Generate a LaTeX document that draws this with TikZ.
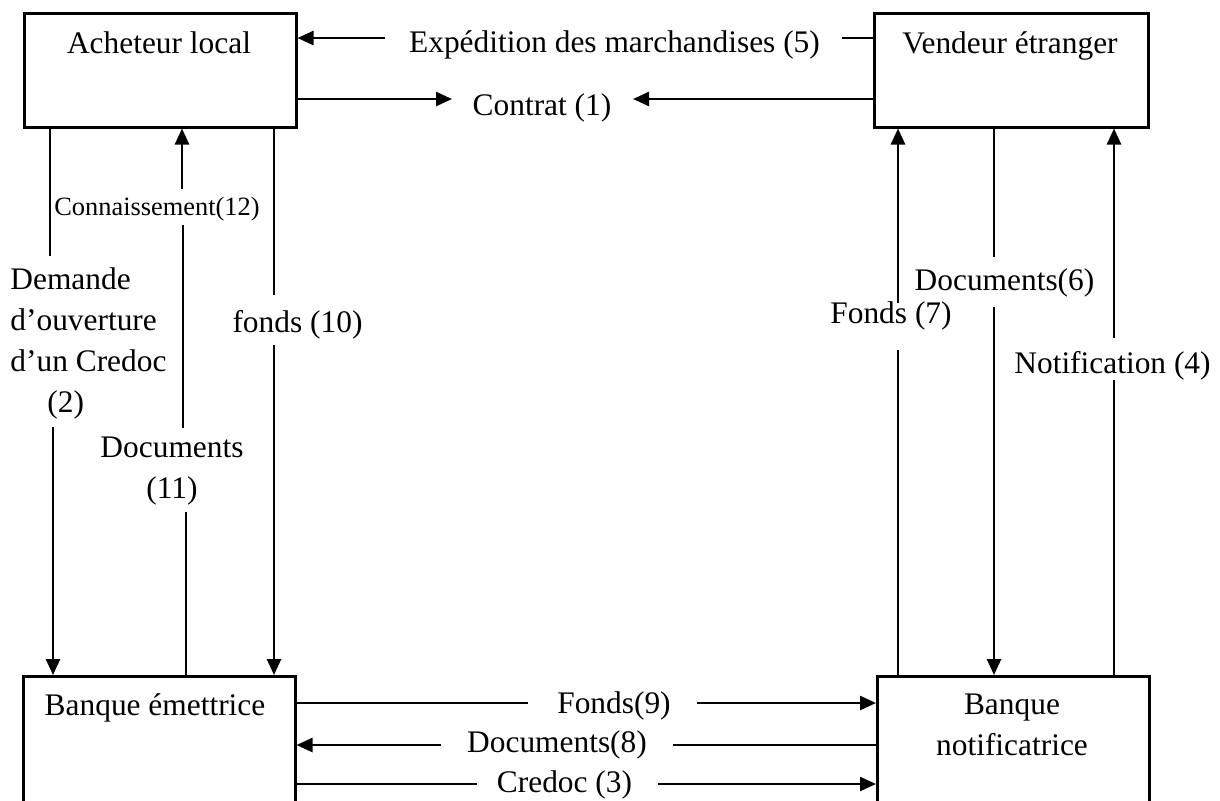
\documentclass[tikz,border=0pt]{standalone}
\usepackage{fontspec}
\setmainfont{Liberation Serif}
\usetikzlibrary{arrows.meta,calc}
\begin{document}
\begin{tikzpicture}[x=0.5pt,y=-0.5pt,
  box/.style={draw, line width=1.25pt, minimum width=136pt, minimum height=57pt, inner sep=0pt, anchor=north west},
  lbl/.style={font=\fontsize{15.7}{20}\selectfont, inner sep=0pt, anchor=base},
  mlbl/.style={font=\fontsize{15.7}{20.5}\selectfont, inner sep=0pt},
  small/.style={font=\fontsize{13.2}{16}\selectfont, inner sep=0pt, anchor=base},
  flow/.style={line width=1.05pt},
  thinflow/.style={line width=0.75pt},
  arr/.style={line width=1.25pt, -{Triangle[length=8pt,width=7pt]}},
]
\useasboundingbox (0,0) rectangle (1220,800);
\clip (0,0) rectangle (1220,800);
\fill[white] (0,0) rectangle (1220,800);

% boxes
\node[box] (A) at (23,12) {};
\node[box, minimum width=137pt] (V) at (873,12) {};
\node[box, minimum height=80pt] (E) at (22,675) {};
\node[box, minimum height=80pt] (N) at (876,675) {};

% box texts
\node[lbl] (tA) at (159,53) {Acheteur local};
\node[lbl] (tV) at (1010,53) {Vendeur étranger};
\node[lbl] (tE) at (155,715) {Banque émettrice};
\node[mlbl, align=center, anchor=north] (tN) at (1012,694) {Banque\\notificatrice};

% labels
\node[lbl] (t5) at (614.5,52) {Expédition des marchandises (5)};
\node[lbl] (t1) at (542,115) {Contrat (1)};
\node[small] (t12) at (157,215) {Connaissement(12)};
\node[mlbl, align=left, anchor=north west] (t2) at (10,267) {Demande\\d’ouverture\\d’un Credoc\\\hspace*{18.5pt}(2)};
\node[mlbl, align=center, anchor=north] (t11) at (172,437) {Documents\\(11)};
\node[lbl] (t10) at (297.5,332) {fonds (10)};
\node[lbl] (t7) at (891,323) {Fonds (7)};
\node[lbl] (t6) at (1004.5,290) {Documents(6)};
\node[lbl] (t4) at (1112.5,373) {Notification (4)};
\node[lbl] (t9) at (614,713) {Fonds(9)};
\node[lbl] (t8) at (557,752) {Documents(8)};
\node[lbl] (t3) at (564.5,792) {Credoc (3)};

% coordinates of free ends
\coordinate (c5a) at (842,38);  \coordinate (c5b) at (385,38);
\coordinate (c1a) at (452,99);  \coordinate (c1b) at (633,99);
\coordinate (c12a) at (182,189); \coordinate (c12b) at (183,225); \coordinate (c12c) at (183,428);
\coordinate (c11a) at (186,512);
\coordinate (c2a) at (50,256);  \coordinate (c2b) at (53,427);
\coordinate (c10a) at (274,295); \coordinate (c10b) at (274,345);
\coordinate (c7a) at (898,350); \coordinate (c7b) at (898,303);
\coordinate (c6a) at (994,257); \coordinate (c6b) at (994,307);
\coordinate (c4a) at (1114,380); \coordinate (c4b) at (1114,338);
\coordinate (c9a) at (528,703); \coordinate (c9b) at (697,703);
\coordinate (c8a) at (673,745); \coordinate (c8b) at (441,745);
\coordinate (c3a) at (477,784); \coordinate (c3b) at (658,784);

% top connectors
\draw[flow] (V.west |- c5a) -- (c5a);
\draw[arr] (c5b) -- (A.east |- c5b);
\draw[arr] (A.east |- c1a) -- (c1a);
\draw[arr] (V.west |- c1b) -- (c1b);

% left verticals
\draw[flow] (c2a |- A.south) -- (c2a);
\draw[arr] (c2b) -- (c2b |- E.north);
\draw[flow] (c11a) -- (c11a |- E.north);
\draw[flow] (c12b) -- (c12c);
\draw[arr] (c12a) -- (c12a |- A.south);
\draw[flow] (c10a |- A.south) -- (c10a);
\draw[arr] (c10b) -- (c10b |- E.north);

% right verticals
\draw[flow] (c7a |- N.north) -- (c7a);
\draw[arr] (c7b) -- (c7b |- V.south);
\draw[thinflow] (c6a |- V.south) -- (c6a);
\draw[arr] (c6b) -- (c6b |- N.north);
\draw[flow] (c4a |- N.north) -- (c4a);
\draw[arr] (c4b) -- (c4b |- V.south);

% bottom horizontals
\draw[flow] (E.east |- c9a) -- (c9a);
\draw[arr] (c9b) -- (c9b -| N.west);
\draw[flow] (N.west |- c8a) -- (c8a);
\draw[arr] (c8b) -- (c8b -| E.east);
\draw[flow] (E.east |- c3a) -- (c3a);
\draw[arr] (c3b) -- (c3b -| N.west);
\end{tikzpicture}
\end{document}
